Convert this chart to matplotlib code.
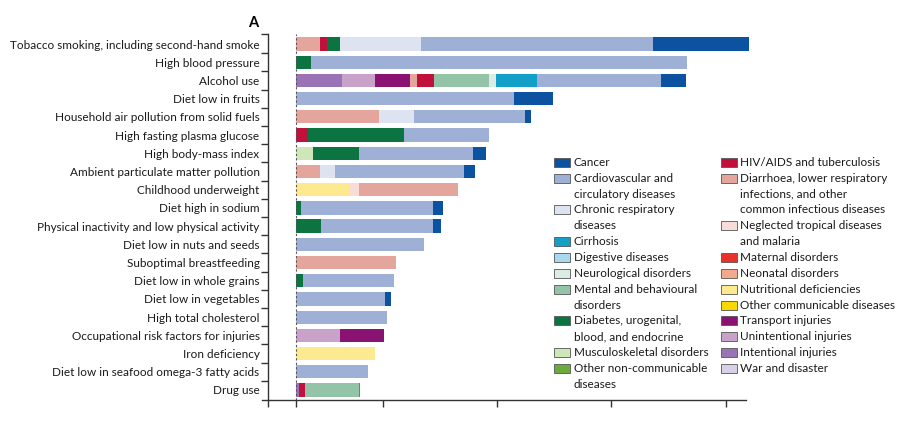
import numpy as np
import matplotlib
matplotlib.use("Agg")
import matplotlib.pyplot as plt
from matplotlib.patches import Rectangle

plt.rcParams['font.family'] = ['Lato', 'DejaVu Sans']

risks = [
    "Tobacco smoking, including second-hand smoke", "High blood pressure", "Alcohol use",
    "Diet low in fruits", "Household air pollution from solid fuels", "High fasting plasma glucose",
    "High body-mass index", "Ambient particulate matter pollution", "Childhood underweight",
    "Diet high in sodium", "Physical inactivity and low physical activity", "Diet low in nuts and seeds",
    "Suboptimal breastfeeding", "Diet low in whole grains", "Diet low in vegetables",
    "High total cholesterol", "Occupational risk factors for injuries", "Iron deficiency",
    "Diet low in seafood omega-3 fatty acids", "Drug use",
]

# attributable burden per cause group, same order as risks
intentional = [0, 0, 40.0, 0, 0, 0, 0, 0, 0, 0, 0, 0, 0, 0, 0, 0, 0, 0, 0, 2.6]
unintentional = [0, 0, 29.1, 0, 0, 0, 0, 0, 0, 0, 0, 0, 0, 0, 0, 0, 38.5, 0, 0, 0]
transport = [0, 0, 30.4, 0, 0, 0, 0, 0, 0, 0, 0, 0, 0, 0, 0, 0, 38.8, 0, 0, 0]
nutritional = [0, 0, 0, 0, 0, 0, 0, 0, 47.5, 0, 0, 0, 0, 0, 0, 0, 0, 68.9, 0, 0]
ntd = [0, 0, 0, 0, 0, 0, 0, 0, 7.6, 0, 0, 0, 0, 0, 0, 0, 0, 0, 0, 0]
diarrhoea = [21.0, 0, 6.1, 0, 72.9, 0, 0, 21.0, 86.6, 0, 0, 0, 87.8, 0, 0, 0, 0, 0, 0, 0]
hiv = [6.4, 0, 15.1, 0, 0, 10.2, 0, 0, 0, 0, 0, 0, 0, 0, 0, 0, 0, 0, 0, 5.3]
musculo = [0, 0, 0, 0, 0, 0, 15.1, 0, 0, 0, 0, 0, 0, 0, 0, 0, 0, 0, 0, 0]
diabetes = [11.1, 12.9, 0, 0, 0, 84.6, 40.3, 0, 0, 4.1, 21.9, 0, 0, 6.4, 0, 0, 0, 0, 0, 0]
mental = [0, 0, 48.2, 0, 0, 0, 0, 0, 0, 0, 0, 0, 0, 0, 0, 0, 0, 0, 0, 47.2]
neuro = [0, 0, 6.1, 0, 0, 0, 0, 0, 0, 0, 0, 0, 0, 0, 0, 0, 0, 0, 0, 0]
cirrhosis = [0, 0, 35.9, 0, 0, 0, 0, 0, 0, 0, 0, 0, 0, 0, 0, 0, 0, 0, 0, 0.9]
chronic_resp = [70.9, 0, 0, 0, 30.3, 0, 0, 13.1, 0, 0, 0, 0, 0, 0, 0, 0, 0, 0, 0, 0]
cardio = [203.2, 328.9, 108.4, 190.7, 97.1, 74.1, 99.7, 112.6, 0, 116.0, 98.2, 112.0, 0, 79.1, 77.9, 79.6, 0, 0, 63.0, 0]
cancer = [83.7, 0, 21.9, 34.1, 5.0, 0, 10.9, 10.2, 0, 8.5, 7.0, 0, 0, 0, 5.2, 0, 0, 0, 0, 0]

stack = [
    (intentional, "#9a72b6"), (unintentional, "#c9a2c9"), (transport, "#8a1272"),
    (nutritional, "#fde98f"), (ntd, "#f8dcd8"), (diarrhoea, "#e4a59d"), (hiv, "#c0103c"),
    (musculo, "#cfe6b9"), (diabetes, "#0b7440"), (mental, "#94c4a8"), (neuro, "#dcebe3"),
    (cirrhosis, "#13a0c8"), (chronic_resp, "#dde3f1"), (cardio, "#9fb0d6"), (cancer, "#0b52a0"),
]

legend_left = [
    ("Cancer", "#0b52a0"),
    ("Cardiovascular and\ncirculatory diseases", "#9fb0d6"),
    ("Chronic respiratory\ndiseases", "#dde3f1"),
    ("Cirrhosis", "#13a0c8"),
    ("Digestive diseases", "#a9d8ec"),
    ("Neurological disorders", "#dcebe3"),
    ("Mental and behavioural\ndisorders", "#94c4a8"),
    ("Diabetes, urogenital,\nblood, and endocrine", "#0b7440"),
    ("Musculoskeletal disorders", "#cfe6b9"),
    ("Other non-communicable\ndiseases", "#6aab3b"),
]
legend_right = [
    ("HIV/AIDS and tuberculosis", "#c0103c"),
    ("Diarrhoea, lower respiratory\ninfections, and other\ncommon infectious diseases", "#e4a59d"),
    ("Neglected tropical diseases\nand malaria", "#f8dcd8"),
    ("Maternal disorders", "#e8332b"),
    ("Neonatal disorders", "#f3a98d"),
    ("Nutritional deficiencies", "#fde98f"),
    ("Other communicable diseases", "#f7d800"),
    ("Transport injuries", "#8a1272"),
    ("Unintentional injuries", "#c9a2c9"),
    ("Intentional injuries", "#9a72b6"),
    ("War and disaster", "#d8d0e7"),
]

x_ticks = [-24.5, 0, 76, 176, 276, 376]

W, H = 900, 429
fig = plt.figure(figsize=(9, 4.29), dpi=100)
ax = fig.add_axes([262 / W, 1 - 400 / H, 487.2 / W, 366 / H])

y = np.arange(len(risks))
left = np.zeros(len(risks))
for vals, col in stack:
    vals = np.array(vals, dtype=float)
    ax.barh(y, vals, left=left, height=0.73, color=col, linewidth=0, zorder=2)
    left += vals

ax.axvline(0, color="#555555", lw=0.8, ls=(0, (2, 2)), zorder=3)

ax.set_xlim(-29.7, 396.5)
ax.set_ylim(len(risks) - 0.45, -0.55)

ax.spines['top'].set_visible(False)
ax.spines['right'].set_visible(False)
ax.spines['left'].set_position(('data', -24.5))
ax.spines['bottom'].set_bounds(-29.7, 393.7)
for s in ('left', 'bottom'):
    ax.spines[s].set_color("#333333")
    ax.spines[s].set_linewidth(1.0)

ax.set_xticks(x_ticks)
ax.set_xticklabels([])
ax.tick_params(axis='x', length=5, width=1.0, color="#333333")

ax.set_yticks(y)
ax.set_yticklabels(risks, fontsize=8.45, color="#1a1a1a")
ax.tick_params(axis='y', which='major', length=0, pad=6)
ax.set_yticks(np.append(np.arange(len(risks) - 1) + 0.5, -0.55), minor=True)
ax.tick_params(axis='y', which='minor', length=5, width=1.0, color="#333333")

fig.text(258 / W, 1 - 23 / H, "A", fontsize=10.5, fontweight='bold', ha='right', va='center')


def draw_legend(entries, px, tx):
    line = 0
    for label, col in entries:
        yc = 162.3 + 15.86 * line
        fig.patches.append(Rectangle((px / W, 1 - (yc + 4.5) / H), 16 / W, 9 / H,
                                     transform=fig.transFigure, facecolor=col,
                                     edgecolor="#555555", linewidth=0.6))
        for part in label.split("\n"):
            fig.text(tx / W, 1 - (162.3 + 15.86 * line) / H, part, fontsize=8.45,
                     color="#1a1a1a", ha='left', va='center')
            line += 1


draw_legend(legend_left, 554, 574)
draw_legend(legend_right, 721, 740)

fig.savefig("out.png", dpi=100)
